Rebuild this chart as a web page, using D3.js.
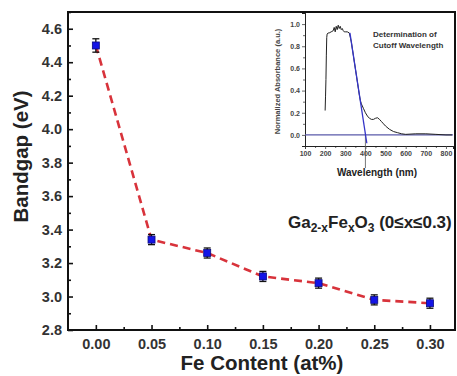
<!DOCTYPE html>
<html><head><meta charset="utf-8">
<script src="https://cdn.jsdelivr.net/npm/d3@7"></script>
<style>body{margin:0;background:#fff}svg{display:block;font-family:"Liberation Sans",Arial,sans-serif}</style>
</head><body>
<svg id="c" width="457" height="376"></svg>
<script>
// Main data
const feContent = [0.00, 0.05, 0.10, 0.15, 0.20, 0.25, 0.30];
const bandgap = [4.50, 3.34, 3.26, 3.12, 3.08, 2.98, 2.96];
const bandgapErr = [0.04, 0.03, 0.03, 0.03, 0.03, 0.03, 0.03];
const xTicks = [0.00, 0.05, 0.10, 0.15, 0.20, 0.25, 0.30];
const yTicks = [2.8, 3.0, 3.2, 3.4, 3.6, 3.8, 4.0, 4.2, 4.4, 4.6];
// Inset data
const wavelength = [200,202,204,206,208,210,215,220,230,240,245,250,255,260,265,270,275,280,285,290,295,300,310,320,330,340,350,360,370,375,380,390,400,410,420,430,440,450,460,470,480,490,500,520,540,560,580,600,650,700,750,800,830];
const absorbance = [0.22,0.35,0.50,0.72,0.88,0.91,0.92,0.92,0.93,0.94,0.97,0.93,0.98,0.95,0.99,0.96,0.98,0.95,0.96,0.94,0.93,0.93,0.93,0.92,0.84,0.72,0.60,0.48,0.36,0.31,0.28,0.24,0.20,0.17,0.15,0.14,0.14,0.15,0.155,0.14,0.12,0.10,0.08,0.05,0.03,0.02,0.01,0.005,0.01,0.01,0.005,0.0,0.0];
const tangentWl = [323, 407];
const tangentVal = [0.92, -0.075];
const cutoffWl = 400;
const insetXTicks = [100,200,300,400,500,600,700,800];
const insetYTicks = [0.0,0.2,0.4,0.6,0.8,1.0];

const svg = d3.select("#c");
const L = 68, R = 455, T = 12, B = 330;
const x = d3.scaleLinear().domain([-0.025, 0.3225]).range([L, R]);
const y = d3.scaleLinear().domain([2.8, 4.7]).range([B, T]);

// Axes with inward ticks
const xMinor = d3.range(0.025, 0.32, 0.05);
const yMinor = d3.range(2.9, 4.71, 0.2);
const gx = svg.append("g").attr("transform", `translate(0,${B})`);
gx.call(d3.axisBottom(x).tickValues(xMinor).tickSize(-3).tickFormat(""));
gx.append("g").call(d3.axisBottom(x).tickValues(xTicks).tickSize(-5).tickPadding(8.5).tickFormat(d3.format(".2f")));
const gy = svg.append("g").attr("transform", `translate(${L},0)`);
gy.call(d3.axisLeft(y).tickValues(yMinor).tickSize(-3).tickFormat(""));
gy.append("g").call(d3.axisLeft(y).tickValues(yTicks).tickSize(-5).tickPadding(6).tickFormat(d3.format(".1f")));
svg.selectAll(".domain").remove();
svg.selectAll(".tick line").attr("stroke", "#111").attr("stroke-width", 1.6);
svg.selectAll(".tick text").attr("font-size", 14.5).attr("font-weight", "bold").attr("fill", "#333");

// Frame
svg.append("rect").attr("x", L).attr("y", T).attr("width", R - L).attr("height", B - T)
  .attr("fill", "none").attr("stroke", "#111").attr("stroke-width", 2);

// Axis labels
svg.append("text").attr("x", 262).attr("y", 370).attr("text-anchor", "middle")
  .attr("font-size", 20.5).attr("font-weight", "bold").attr("fill", "#222").text("Fe Content (at%)");
svg.append("text").attr("transform", `translate(28,156.5) rotate(-90)`).attr("text-anchor", "middle")
  .attr("font-size", 20.5).attr("font-weight", "bold").attr("fill", "#222").text("Bandgap (eV)");

// Dashed line
svg.append("path").datum(feContent.map((d, i) => [d, bandgap[i]]))
  .attr("d", d3.line().x(d => x(d[0])).y(d => y(d[1])))
  .attr("fill", "none").attr("stroke", "#d8333b").attr("stroke-width", 2.6).attr("stroke-dasharray", "8,5");

// Error bars and markers
const pts = svg.append("g");
feContent.forEach((d, i) => {
  const cx = x(d), y1 = y(bandgap[i] + bandgapErr[i]), y2 = y(bandgap[i] - bandgapErr[i]);
  pts.append("line").attr("x1", cx).attr("x2", cx).attr("y1", y1).attr("y2", y2).attr("stroke", "#111").attr("stroke-width", 1.3);
  pts.append("line").attr("x1", cx - 3.5).attr("x2", cx + 3.5).attr("y1", y1).attr("y2", y1).attr("stroke", "#111").attr("stroke-width", 1.3);
  pts.append("line").attr("x1", cx - 3.5).attr("x2", cx + 3.5).attr("y1", y2).attr("y2", y2).attr("stroke", "#111").attr("stroke-width", 1.3);
  pts.append("rect").attr("x", cx - 3.5).attr("y", y(bandgap[i]) - 3.5).attr("width", 7).attr("height", 7)
    .attr("fill", "#1414e6").attr("stroke", "#0a0a80").attr("stroke-width", 0.8);
});

// Formula annotation
const ann = svg.append("text").attr("x", 288).attr("y", 228).attr("font-size", 17).attr("font-weight", "bold").attr("fill", "#222");
ann.append("tspan").text("Ga");
ann.append("tspan").attr("font-size", 12).attr("dy", 4).text("2-x");
ann.append("tspan").attr("dy", -4).text("Fe");
ann.append("tspan").attr("font-size", 12).attr("dy", 4).text("x");
ann.append("tspan").attr("dy", -4).text("O");
ann.append("tspan").attr("font-size", 12).attr("dy", 4).text("3");
ann.append("tspan").attr("dy", -4).text(" (0\u2264x\u22640.3)");

// Inset
const iL = 305, iR = 453, iT = 13, iB = 146;
const xi = d3.scaleLinear().domain([100, 835]).range([iL, iR]);
const yi = d3.scaleLinear().domain([-0.1, 1.1]).range([iB, iT]);
const ig = svg.append("g");
const ix = ig.append("g").attr("transform", `translate(0,${iB})`);
ix.call(d3.axisBottom(xi).tickValues(d3.range(150, 835, 100)).tickSize(2).tickFormat(""));
ix.append("g").call(d3.axisBottom(xi).tickValues(insetXTicks).tickSize(3).tickPadding(2).tickFormat(d3.format("d")));
const iy = ig.append("g").attr("transform", `translate(${iL},0)`);
iy.call(d3.axisLeft(yi).tickValues(d3.range(-0.1, 1.11, 0.2)).tickSize(2).tickFormat(""));
iy.append("g").call(d3.axisLeft(yi).tickValues(insetYTicks).tickSize(3).tickPadding(2).tickFormat(d3.format(".1f")));
ig.selectAll(".domain").attr("stroke", "#222").attr("stroke-width", 1);
ig.selectAll(".tick line").attr("stroke", "#444").attr("stroke-width", 0.8);
ig.selectAll(".tick text").attr("font-size", 7).attr("font-weight", "bold").attr("fill", "#444");

// baseline at 0
ig.append("line").attr("x1", iL).attr("x2", iR).attr("y1", yi(0)).attr("y2", yi(0)).attr("stroke", "#5a5aaa").attr("stroke-width", 1.2);
// cutoff marker
ig.append("line").attr("x1", xi(cutoffWl)).attr("x2", xi(cutoffWl)).attr("y1", yi(0)).attr("y2", 168).attr("stroke", "#555").attr("stroke-width", 0.8);
// absorbance curve
ig.append("path").datum(wavelength.map((d, i) => [d, absorbance[i]]))
  .attr("d", d3.line().x(d => xi(d[0])).y(d => yi(d[1])))
  .attr("fill", "none").attr("stroke", "#222").attr("stroke-width", 1);
// tangent line
ig.append("path").datum(tangentWl.map((d, i) => [d, tangentVal[i]]))
  .attr("d", d3.line().x(d => xi(d[0])).y(d => yi(d[1])))
  .attr("fill", "none").attr("stroke", "#3434c8").attr("stroke-width", 1.3);

ig.append("text").attr("x", 377).attr("y", 176).attr("text-anchor", "middle")
  .attr("font-size", 10).attr("font-weight", "bold").attr("fill", "#222").text("Wavelength (nm)");
ig.append("text").attr("transform", `translate(280,${(iT + iB) / 2 + 2}) rotate(-90)`).attr("text-anchor", "middle")
  .attr("font-size", 7.5).attr("font-weight", "bold").attr("fill", "#444").text("Normalized Absorbance (a.u.)");
ig.append("text").attr("x", 373).attr("y", 37).attr("font-size", 8).attr("font-weight", "bold").attr("fill", "#333").text("Determination of");
ig.append("text").attr("x", 373).attr("y", 48).attr("font-size", 8).attr("font-weight", "bold").attr("fill", "#333").text("Cutoff Wavelength");
</script>
</body></html>
